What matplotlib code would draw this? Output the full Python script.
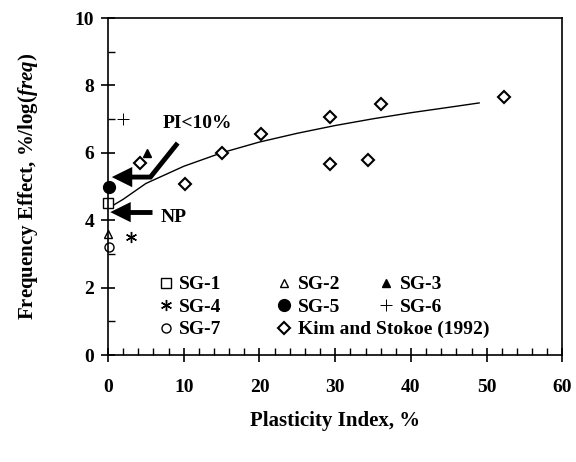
import numpy as np
import matplotlib
matplotlib.use('Agg')
import matplotlib.pyplot as plt

plt.rcParams['font.family'] = 'Liberation Serif'
plt.rcParams['font.weight'] = 'bold'
plt.rcParams['mathtext.fontset'] = 'custom'
plt.rcParams['mathtext.it'] = 'Liberation Serif:bold:italic'
plt.rcParams['mathtext.rm'] = 'Liberation Serif:bold'

# SG samples (PI, frequency effect)
sg1_x = [0.0];  sg1_y = [4.5]
sg2_x = [0.0];  sg2_y = [3.6]
sg3_x = [5.2];  sg3_y = [6.0]
sg4_x = [3.0];  sg4_y = [3.5]
sg5_x = [0.1];  sg5_y = [5.0]
sg6_x = [2.0];  sg6_y = [7.0]
sg7_x = [0.1];  sg7_y = [3.2]

# Kim and Stokoe (1992)
kim_x = [4.2, 10.2, 15.1, 20.2, 29.3, 29.3, 34.3, 36.1, 52.3]
kim_y = [5.7, 5.07, 6.0, 6.56, 7.07, 5.67, 5.79, 7.45, 7.66]

# trend line
fit_x = [0, 2, 5, 10, 15, 20, 25, 30, 35, 40, 45, 49]
fit_y = [4.35, 4.62, 5.09, 5.60, 6.0, 6.32, 6.58, 6.81, 7.01, 7.19, 7.35, 7.48]

fig = plt.figure(figsize=(5.76, 4.62), dpi=100)
ax = fig.add_axes([0.1875, 0.2316, 0.789, 0.7294])

ax.plot(fit_x, fit_y, color='black', lw=1.0)

ms = 6.5
h1, = ax.plot(sg1_x, sg1_y, 's', mfc='white', mec='black', ms=ms, mew=1, clip_on=False, ls='none')
h2, = ax.plot(sg2_x, sg2_y, '^', mfc='white', mec='black', ms=6, mew=1, clip_on=False, ls='none')
h3, = ax.plot(sg3_x, sg3_y, '^', mfc='black', mec='black', ms=6, clip_on=False, ls='none')
h4, = ax.plot(sg4_x, sg4_y, marker=(6, 2, 0), color='black', ms=8, mew=1.0, clip_on=False, ls='none')
h5, = ax.plot(sg5_x, sg5_y, 'o', mfc='black', mec='black', ms=8.5, clip_on=False, ls='none')
h6, = ax.plot(sg6_x, sg6_y, '+', color='black', ms=8, mew=0.7, clip_on=False, ls='none')
h7, = ax.plot(sg7_x, sg7_y, 'o', mfc='white', mec='black', ms=ms, mew=1, clip_on=False, ls='none')
hk, = ax.plot(kim_x, kim_y, 'D', mfc='white', mec='black', ms=6, mew=1.5, clip_on=False, ls='none')

# arrows
ax.plot([9.2, 5.6, 2.3], [6.29, 5.28, 5.28], color='black', lw=3.5, solid_capstyle='butt', solid_joinstyle='miter')
ax.fill([0.5, 3.2, 3.2], [5.28, 5.58, 4.98], color='black', lw=0)
ax.plot([5.8, 2.3], [4.24, 4.24], color='black', lw=3.5, solid_capstyle='butt')
ax.fill([0.3, 3.0, 3.0], [4.24, 4.54, 3.94], color='black', lw=0)
ax.text(7.2, 6.88, 'PI<10%', fontsize=14, fontweight='bold', va='center', ha='left')
ax.text(6.9, 4.07, 'NP', fontsize=14, fontweight='bold', va='center', ha='left')

ax.set_xlim(0, 60)
ax.set_ylim(0, 10)
ax.set_xticks(np.arange(0, 61, 10))
ax.set_xticks(np.arange(0, 61, 2), minor=True)
ax.set_yticks(np.arange(0, 11, 2))
ax.set_yticks(np.arange(0, 11, 1), minor=True)
ax.tick_params(which='major', direction='inout', length=10, width=1.2, labelsize=14, pad=12)
ax.tick_params(which='minor', direction='in', length=5, width=1)
ax.tick_params(axis='y', which='major', pad=5)
for lab in ax.get_xticklabels() + ax.get_yticklabels():
    lab.set_fontweight('bold')
for sp in ax.spines.values():
    sp.set_linewidth(1.2)

ax.set_xlabel('Plasticity Index, %', fontsize=15, fontweight='bold', labelpad=11)
ax.set_ylabel(r'Frequency Effect, %/log($freq$)', fontsize=15, fontweight='bold', labelpad=25)

leg_kw = dict(frameon=False, fontsize=14, handlelength=0.8, handletextpad=0.3,
              labelspacing=0.25, borderaxespad=0, borderpad=0)
leg1 = ax.legend([h1, h4, h7], ['SG-1', 'SG-4', 'SG-7'], loc='upper left',
                 bbox_to_anchor=(0.11, 0.235), **leg_kw)
ax.add_artist(leg1)
leg2 = ax.legend([h2, h5, hk], ['SG-2', 'SG-5', 'Kim and Stokoe (1992)'], loc='upper left',
                 bbox_to_anchor=(0.37, 0.235), **leg_kw)
ax.add_artist(leg2)
leg3 = ax.legend([h3, h6], ['SG-3', 'SG-6'], loc='upper left',
                 bbox_to_anchor=(0.595, 0.235), **leg_kw)

fig.savefig('out.png', dpi=100)
